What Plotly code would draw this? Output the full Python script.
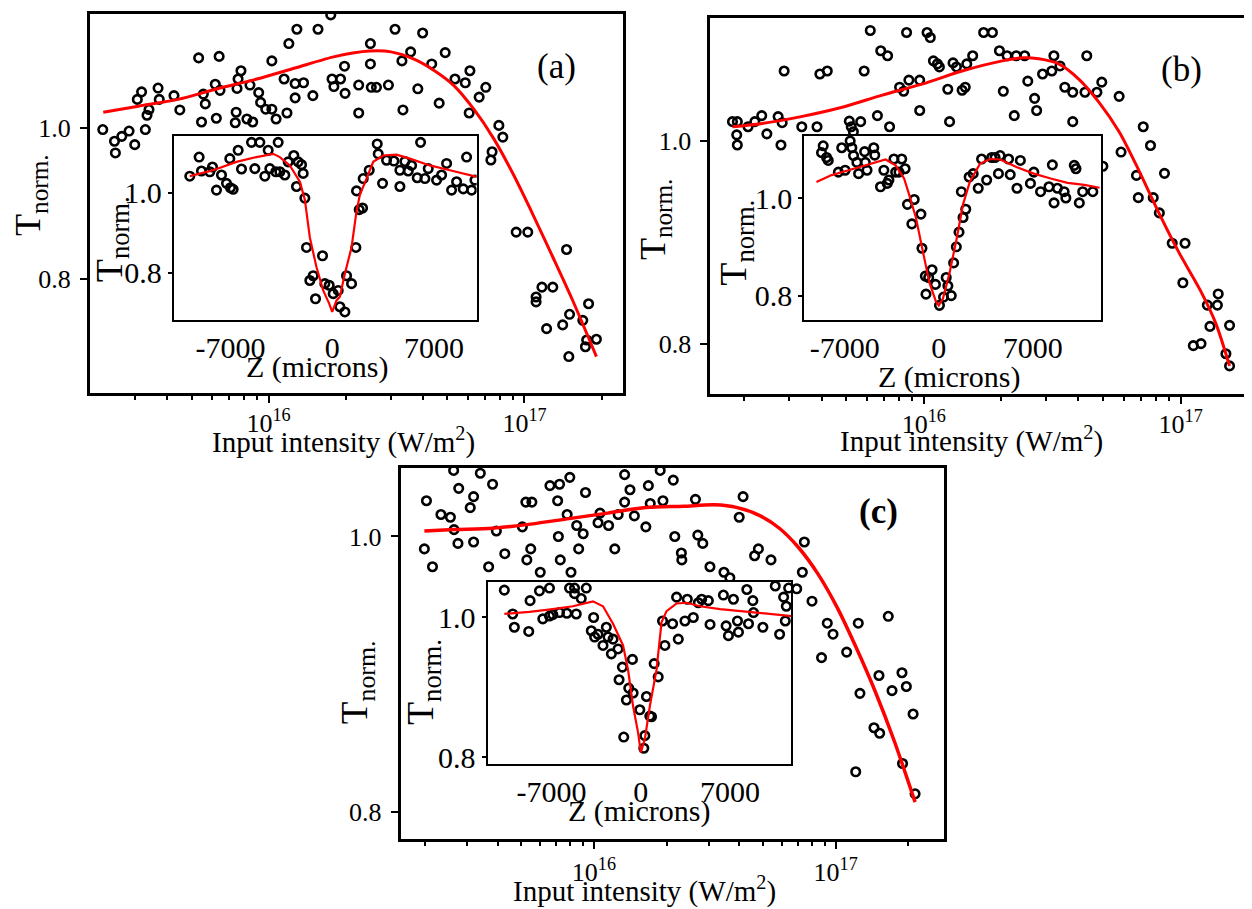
import plotly.graph_objects as go

# page is 1252x909; the html body has an 8 px margin, so the figure is drawn 8 px in
OFF = 8
WF, HF = 1252 - OFF, 909 - OFF
FONT = "Liberation Serif, Times New Roman, serif"

# ---------------- Panel (a) main: input intensity (W/m^2) vs T_norm ----------------
A_I = [2.25e15, 2.50e15, 2.52e15, 2.67e15, 2.85e15, 3.0e15, 3.07e15, 3.19e15, 3.30e15, 3.35e15,
       3.41e15, 3.70e15, 3.74e15, 4.27e15, 4.50e15, 5.33e15, 5.47e15, 5.56e15, 5.66e15, 6.25e15,
       6.19e15, 6.46e15, 6.41e15, 7.41e15, 7.47e15, 7.53e15, 7.60e15, 7.80e15, 8.23e15, 8.67e15,
       8.46e15, 9.15e15, 9.31e15, 9.75e15, 1.03e16, 1.07e16, 1.03e16, 1.15e16, 1.18e16, 1.20e16,
       1.27e16, 1.29e16, 1.27e16, 1.37e16, 1.49e16, 1.56e16, 1.75e16, 1.77e16, 1.80e16, 1.91e16,
       1.98e16, 1.99e16, 2.25e16, 2.25e16, 2.50e16, 2.50e16, 2.52e16, 2.64e16, 2.94e16, 3.12e16,
       3.32e16, 3.35e16, 3.59e16, 3.83e16, 4.0e16, 4.34e16, 4.64e16, 4.90e16, 5.35e16, 5.87e16,
       6.12e16, 6.08e16, 6.65e16, 7.06e16, 7.94e16, 8.23e16, 7.47e16, 7.39e16, 9.28e16, 1.03e17,
       1.11e17, 1.17e17, 1.29e17, 1.11e17, 1.22e17, 1.41e17, 1.50e17, 1.46e17, 1.49e17, 1.69e17,
       1.78e17, 1.75e17, 1.73e17, 1.91e17]
A_T = [0.998, 0.9825, 0.967, 0.989, 0.996, 0.978, 1.038, 1.048, 0.998, 1.017,
       1.0245, 1.053, 1.038, 1.043, 1.024, 1.093, 1.008, 1.045, 1.032, 1.013,
       1.058, 1.050, 1.095, 1.007, 1.021, 1.0525, 1.065, 1.076, 1.012, 1.008,
       1.057, 1.047, 1.034, 1.025, 1.025, 1.012, 1.089, 1.065, 1.020, 1.112,
       1.059, 1.131, 1.040, 1.060, 1.043, 1.131, 1.150, 1.065, 1.055, 1.065,
       1.082, 1.046, 1.057, 1.020, 1.112, 1.085, 1.054, 1.054, 1.057, 1.131,
       1.089, 1.024, 1.101, 1.052, 1.126, 1.085, 1.033, 1.100, 1.065, 1.060,
       1.076, 1.020, 1.041, 1.054, 1.0035, 0.988, 0.9685, 0.9576, 0.862, 0.862,
       0.7695, 0.789, 0.789, 0.776, 0.734, 0.739, 0.753, 0.839, 0.697, 0.745,
       0.767, 0.719, 0.710, 0.720]
A_FIT_I = [2.26e15, 3.10e15, 4.42e15, 6.30e15, 9.0e15, 1.28e16, 1.83e16, 2.48e16, 3.01e16, 3.72e16,
           4.45e16, 5.31e16, 6.34e16, 7.58e16, 9.06e16, 1.08e17, 1.29e17, 1.54e17, 1.91e17]
A_FIT_T = [1.021, 1.029, 1.038, 1.052, 1.065, 1.080, 1.095, 1.102, 1.101, 1.091,
           1.076, 1.056, 1.025, 0.986, 0.938, 0.885, 0.829, 0.772, 0.697]

# ---------------- Panel (a) inset: Z (microns) vs T_norm ----------------
AI_Z = [-9800, -9157, -8996, -8423, -8239, -7964, -7619, -7275, -7000, -6816,
        -7046, -6472, -6242, -5554, -5324, -4980, -4636, -4406, -4292, -3879,
        -3718, -3603, -3259, -3029, -2639, -2456, -2341, -2111, -1997, -1882,
        -1767, -1308, -1538, -1148, -666, -505, -207, 69, 413, 528,
        872, 987, 1331, 1629, 1859, 2088, 1675, 2134, 2547, 3098,
        3167, 3465, 3741, 4246, 4659, 4659, 5003, 5233, 5462, 5852,
        6082, 6380, 6610, 7183, 7528, 7872, 8216, 8560, 9019, 9249,
        9593, 9823]
AI_T = [1.042, 1.090, 1.055, 1.053, 1.065, 1.007, 1.045, 1.024, 1.013, 1.009,
        1.086, 1.107, 1.060, 1.127, 1.061, 1.127, 1.042, 1.107, 1.061, 1.053,
        1.127, 1.053, 1.045, 1.078, 1.094, 1.016, 1.078, 1.071, 1.049, 0.987,
        0.863, 0.792, 0.780, 0.734, 0.842, 0.772, 0.768, 0.747, 0.755, 0.714,
        0.701, 0.792, 0.772, 0.863, 0.958, 0.962, 1.005, 1.036, 1.057, 1.123,
        1.098, 1.024, 1.082, 1.080, 1.016, 1.057, 1.079, 1.055, 1.069, 1.038,
        1.127, 1.036, 1.061, 1.032, 1.045, 1.074, 1.007, 1.028, 1.010, 1.090,
        1.007, 1.032]
AI_FIT_Z = [-9800, -8193, -6587, -5210, -4062, -3603, -2915, -2226, -1882, -1538,
            -1079, -620, -207, 0, 298, 528, 872, 1331, 1675, 1905,
            2364, 2823, 3511, 4429, 5347, 6724, 8101, 9019, 9891]
AI_FIT_T = [1.042, 1.057, 1.078, 1.090, 1.098, 1.090, 1.069, 1.028, 0.983, 0.888,
            0.813, 0.755, 0.722, 0.701, 0.730, 0.739, 0.797, 0.863, 0.954, 0.995,
            1.036, 1.078, 1.094, 1.096, 1.086, 1.069, 1.057, 1.049, 1.041]

# ---------------- Panel (b) main ----------------
B_I = [1.80e15, 1.88e15, 1.88e15, 1.87e15, 2.07e15, 2.20e15, 2.34e15, 2.45e15, 2.71e15, 2.78e15,
       2.81e15, 2.86e15, 3.35e15, 3.84e15, 3.94e15, 4.21e15, 5.13e15, 5.22e15, 5.32e15, 5.68e15,
       5.86e15, 6.19e15, 6.60e15, 6.80e15, 7.23e15, 7.36e15, 8.05e15, 8.35e15, 8.57e15, 8.75e15,
       9.64e15, 9.64e15, 1.03e16, 1.06e16, 1.09e16, 1.13e16, 1.15e16, 1.24e16, 1.26e16, 1.30e16,
       1.34e16, 1.41e16, 1.45e16, 1.47e16, 1.55e16, 1.71e16, 1.85e16, 1.97e16, 2.04e16, 2.11e16,
       2.25e16, 2.29e16, 2.47e16, 2.54e16, 2.70e16, 2.75e16, 2.90e16, 3.15e16, 3.21e16, 3.39e16,
       3.54e16, 3.80e16, 3.80e16, 4.24e16, 4.31e16, 4.72e16, 4.93e16, 4.98e16, 5.76e16, 5.86e16,
       6.73e16, 6.84e16, 7.15e16, 7.63e16, 7.82e16, 8.26e16, 8.65e16, 9.27e16, 1.04e17, 1.02e17,
       1.12e17, 1.20e17, 1.27e17, 1.30e17, 1.39e17, 1.40e17, 1.55e17, 1.50e17, 1.55e17]
B_T = [1.019, 1.019, 0.996, 1.006, 1.014, 1.019, 1.025, 1.007, 1.024, 0.996,
       1.018, 1.069, 1.014, 1.014, 1.066, 1.069, 1.0195, 1.014, 1.009, 1.019,
       1.069, 1.109, 1.025, 1.089, 1.084, 1.014, 1.053, 1.049, 1.107, 1.060,
       1.060, 1.030, 1.107, 1.102, 1.079, 1.076, 1.073, 1.051, 1.019, 1.077,
       1.073, 1.050, 1.053, 1.076, 1.084, 1.107, 1.107, 1.089, 1.049, 1.084,
       1.025, 1.084, 1.084, 1.059, 1.042, 1.030, 1.066, 1.069, 1.084, 1.074,
       1.053, 1.048, 1.019, 1.048, 1.084, 1.048, 1.058, 0.975, 1.044, 0.989,
       0.966, 0.944, 1.014, 0.9955, 0.944, 0.929, 0.968, 0.899, 0.899, 0.860,
       0.798, 0.800, 0.838, 0.817, 0.838, 0.849, 0.818, 0.790, 0.778]
B_FIT_I = [1.80e15, 2.32e15, 3.33e15, 4.77e15, 6.85e15, 9.83e15, 1.41e16, 2.02e16, 2.42e16, 2.80e16,
           3.35e16, 4.01e16, 4.81e16, 5.76e16, 6.90e16, 8.26e16, 9.89e16, 1.19e17, 1.37e17, 1.55e17]
B_FIT_T = [1.014, 1.017, 1.024, 1.033, 1.045, 1.056, 1.069, 1.079, 1.082, 1.081,
           1.076, 1.061, 1.038, 1.009, 0.970, 0.928, 0.889, 0.853, 0.820, 0.778]

# ---------------- Panel (b) inset ----------------
BI_Z = [-8606, -8731, -8355, -8230, -7477, -7226, -6975, -6599, -6473, -6348,
        -6097, -5971, -5520, -5470, -5344, -4842, -4767, -4341, -4090, -3839,
        -3713, -3337, -3212, -2961, -2760, -2509, -2333, -1832, -2007, -1330,
        -1255, -1004, -753, -953, -502, -251, 50, 351, 552, 677,
        928, 1104, 1305, 1505, 1806, 2007, 1681, 2258, 2559, 2936,
        3186, 3563, 3939, 4190, 4441, 4566, 5319, 5194, 5821, 6072,
        6824, 7075, 7577, 8204, 8455, 8581, 8832, 9333, 9459, 10086,
        10212, 10463, 10713, 11466]
BI_T = [1.107, 1.093, 1.083, 1.077, 1.053, 1.103, 1.057, 1.117, 1.103, 1.087,
        1.073, 1.050, 1.095, 1.073, 1.057, 1.103, 1.088, 1.023, 1.057, 1.030,
        1.037, 1.080, 1.053, 1.053, 1.080, 1.060, 0.987, 0.997, 0.947, 0.967,
        0.897, 0.840, 0.837, 0.803, 0.853, 0.823, 0.780, 0.797, 0.837, 0.820,
        0.800, 0.867, 0.900, 0.930, 0.960, 0.977, 1.013, 1.043, 1.050, 1.020,
        1.080, 1.037, 1.083, 1.083, 1.050, 1.087, 1.048, 1.080, 1.020, 1.077,
        1.030, 1.053, 1.013, 1.023, 1.068, 0.990, 1.020, 1.013, 1.000, 1.067,
        1.060, 0.990, 1.013, 1.013]
BI_FIT_Z = [-9108, -7979, -6724, -5470, -4341, -3964, -3212, -2584, -2208, -1706,
            -1204, -703, -201, 0, 301, 803, 1305, 1806, 2308, 3061,
            3814, 4566, 5821, 7075, 8330, 9584, 10839, 11968]
BI_FIT_T = [1.033, 1.047, 1.057, 1.067, 1.077, 1.079, 1.067, 1.040, 1.007, 0.960,
            0.893, 0.827, 0.787, 0.780, 0.793, 0.847, 0.913, 0.987, 1.033, 1.070,
            1.080, 1.079, 1.063, 1.050, 1.040, 1.031, 1.027, 1.021]

# ---------------- Panel (c) main ----------------
C_I = [2.03e15, 1.99e15, 2.15e15, 2.33e15, 2.55e15, 2.63e15, 2.64e15, 2.74e15, 2.76e15, 3.08e15,
       3.18e15, 3.18e15, 3.39e15, 3.67e15, 3.81e15, 3.95e15, 4.28e15, 5.06e15, 5.23e15, 5.28e15,
       5.48e15, 5.54e15, 6.00e15, 6.58e15, 7.08e15, 7.21e15, 7.13e15, 7.26e15, 7.75e15, 7.95e15,
       8.04e15, 8.49e15, 8.65e15, 9.03e15, 9.23e15, 1.06e16, 1.04e16, 1.15e16, 1.22e16, 1.26e16,
       1.34e16, 1.34e16, 1.41e16, 1.47e16, 1.64e16, 1.68e16, 1.71e16, 1.93e16, 1.88e16, 2.13e16,
       2.16e16, 2.30e16, 2.31e16, 2.63e16, 2.69e16, 2.82e16, 3.02e16, 3.45e16, 3.65e16, 3.99e16,
       4.14e16, 4.62e16, 4.79e16, 5.40e16, 7.28e16, 7.42e16, 6.90e16, 7.98e16, 8.74e16, 9.23e16,
       9.75e16, 1.11e17, 1.24e17, 1.21e17, 1.26e17, 1.44e17, 1.52e17, 1.51e17, 1.65e17, 1.71e17,
       1.88e17, 1.96e17, 1.89e17, 2.09e17, 2.13e17]
C_T = [1.026, 0.991, 0.978, 1.016, 1.014, 1.048, 1.005, 0.995, 1.035, 1.021,
       1.029, 0.996, 1.046, 0.978, 1.038, 1.004, 0.9875, 1.007, 1.025, 0.983,
       0.991, 1.025, 0.974, 1.037, 1.026, 1.038, 1.000, 0.983, 1.016, 1.043,
       0.974, 1.008, 0.991, 1.002, 1.032, 1.017, 1.010, 1.008, 0.991, 1.016,
       1.025, 1.045, 1.034, 1.015, 1.007, 1.037, 1.024, 1.026, 1.048, 1.041,
       1.000, 0.988, 0.983, 1.027, 1.001, 0.995, 0.978, 0.974, 0.970, 1.014,
       1.029, 0.986, 0.991, 0.983, 0.974, 0.996, 0.962, 0.953, 0.912, 0.937,
       0.929, 0.916, 0.937, 0.829, 0.886, 0.861, 0.857, 0.899, 0.942, 0.888,
       0.901, 0.891, 0.835, 0.871, 0.813]
C_FIT_I = [1.99e15, 2.64e15, 3.81e15, 5.48e15, 7.89e15, 1.14e16, 1.64e16, 2.35e16, 3.15e16, 3.92e16,
           4.88e16, 5.85e16, 7.02e16, 8.43e16, 1.01e17, 1.21e17, 1.46e17, 1.75e17, 2.13e17]
C_FIT_T = [1.004, 1.005, 1.006, 1.009, 1.013, 1.017, 1.021, 1.022, 1.023, 1.021,
           1.015, 1.006, 0.992, 0.973, 0.949, 0.920, 0.887, 0.851, 0.807]

# ---------------- Panel (c) inset ----------------
CI_Z = [-10698, -10042, -9911, -8784, -8679, -7945, -7682, -7158, -7158, -6896,
        -6371, -5795, -5585, -5192, -5060, -5192, -4667, -4274, -3881, -3697,
        -3618, -3356, -2963, -2701, -2570, -2307, -2176, -1783, -1442, -1704,
        -1127, -944, -656, -603, -79, 446, 315, 236, 708, 839,
        1049, 1363, 1704, 1888, 2491, 2937, 2806, 3461, 3645, 4117,
        4510, 4772, 5428, 5296, 6476, 6686, 6870, 7263, 7578, 7656,
        8312, 8443, 8784, 8836, 9570, 10540, 10881, 11196, 11327, 11406,
        11589, -1337]
CI_T = [1.039, 1.005, 0.986, 0.980, 1.024, 1.038, 0.998, 1.042, 1.002, 1.004,
        1.007, 1.006, 1.042, 1.042, 1.005, 1.034, 1.027, 1.042, 0.981, 1.000,
        0.972, 0.976, 0.960, 0.986, 0.972, 0.948, 0.969, 0.955, 0.929, 0.911,
        0.882, 0.899, 0.940, 0.892, 0.868, 0.887, 0.831, 0.813, 0.859, 0.858,
        0.934, 0.915, 0.995, 0.960, 0.991, 0.969, 1.029, 0.995, 1.026, 1.000,
        1.021, 1.026, 0.990, 1.024, 1.032, 0.988, 0.974, 1.026, 0.995, 0.979,
        1.040, 0.991, 1.024, 1.007, 0.986, 1.045, 0.976, 1.029, 0.995, 1.016,
        1.042, 0.829]
CI_FIT_Z = [-10698, -8731, -6896, -5323, -3749, -2963, -2176, -1390, -996, -603,
            -210, 0, 315, 708, 1232, 1626, 2019, 2806, 3592, 4641,
            6214, 8312, 10147, 11851]
CI_FIT_T = [1.005, 1.008, 1.012, 1.016, 1.023, 1.016, 0.991, 0.960, 0.925, 0.873,
            0.835, 0.807, 0.826, 0.873, 0.925, 0.993, 1.009, 1.020, 1.021, 1.016,
            1.012, 1.008, 1.005, 1.002]

# tick labels
MAIN_X_TICKS = [1e16, 1e17]
MAIN_X_TICKTEXT = ["10<sup>16</sup>", "10<sup>17</sup>"]
MINOR_X_TICKS = [m * 10 ** e for e in (15, 16, 17) for m in range(2, 10)]
MAIN_Y_TICKS = [0.8, 1.0]
MAIN_Y_TICKTEXT = ["0.8", "1.0"]
INSET_X_TICKS = [-7000, 0, 7000]
INSET_X_TICKTEXT = ["-7000", "0", "7000"]
INSET_Y_TICKS = [0.8, 1.0]
INSET_Y_TICKTEXT = ["0.8", "1.0"]


def dom_x(a, b):
    return [(a - OFF) / WF, (b - OFF) / WF]


def dom_y(top, bottom):
    return [1 - (bottom - OFF) / HF, 1 - (top - OFF) / HF]


fig = go.Figure()

MARK = dict(symbol="circle-open", size=8.5, color="black", line=dict(width=2.6, color="black"))
RED = "#ff0000"


def add_panel(n_main, n_inset, I, T, fI, fT, Z, TZ, fZ, fTZ, main_w=3.0):
    xa, ya = ("x" if n_main == 1 else f"x{n_main}"), ("y" if n_main == 1 else f"y{n_main}")
    fig.add_trace(go.Scatter(x=I, y=T, mode="markers", marker=MARK, xaxis=xa, yaxis=ya,
                             showlegend=False, hoverinfo="skip"))
    fig.add_trace(go.Scatter(x=fI, y=fT, mode="lines", line=dict(color=RED, width=main_w, shape="spline", smoothing=0.8),
                             xaxis=xa, yaxis=ya, showlegend=False, hoverinfo="skip"))
    xi, yi = f"x{n_inset}", f"y{n_inset}"
    fig.add_trace(go.Scatter(x=Z, y=TZ, mode="markers", marker=MARK, xaxis=xi, yaxis=yi,
                             showlegend=False, hoverinfo="skip"))
    fig.add_trace(go.Scatter(x=fZ, y=fTZ, mode="lines", line=dict(color=RED, width=2.2),
                             xaxis=xi, yaxis=yi, showlegend=False, hoverinfo="skip"))


add_panel(1, 4, A_I, A_T, A_FIT_I, A_FIT_T, AI_Z, AI_T, AI_FIT_Z, AI_FIT_T)
add_panel(2, 5, B_I, B_T, B_FIT_I, B_FIT_T, BI_Z, BI_T, BI_FIT_Z, BI_FIT_T)
add_panel(3, 6, C_I, C_T, C_FIT_I, C_FIT_T, CI_Z, CI_T, CI_FIT_Z, CI_FIT_T, main_w=3.5)

tickfont_main = dict(family=FONT, size=26, color="black")
tickfont_inset = dict(family=FONT, size=30, color="black")


def main_x(dom, rng, anchor, standoff=-2):
    return dict(type="log", domain=dom, range=rng, anchor=anchor, showgrid=False, zeroline=False,
                showline=True, linewidth=3, linecolor="black", mirror=True,
                tickmode="array", tickvals=MAIN_X_TICKS, ticktext=MAIN_X_TICKTEXT,
                ticks="outside", ticklen=7, tickwidth=2, tickcolor="black", tickfont=tickfont_main,
                ticklabelstandoff=standoff,
                minor=dict(tickmode="array", tickvals=MINOR_X_TICKS, ticks="outside", ticklen=4,
                           tickwidth=2, tickcolor="black", showgrid=False),
                fixedrange=True)


def main_y(dom, rng, anchor):
    return dict(domain=dom, range=rng, anchor=anchor, showgrid=False, zeroline=False,
                showline=True, linewidth=3, linecolor="black", mirror=True,
                tickmode="array", tickvals=MAIN_Y_TICKS, ticktext=MAIN_Y_TICKTEXT,
                ticks="outside", ticklen=7, tickwidth=2, tickcolor="black", tickfont=tickfont_main,
                ticklabelstandoff=4, fixedrange=True)


def inset_x(dom, rng, anchor):
    return dict(domain=dom, range=rng, anchor=anchor, showgrid=False, zeroline=False,
                showline=True, linewidth=2, linecolor="black", mirror=True,
                tickmode="array", tickvals=INSET_X_TICKS, ticktext=INSET_X_TICKTEXT,
                ticks="", tickfont=tickfont_inset, fixedrange=True)


def inset_y(dom, rng, anchor):
    return dict(domain=dom, range=rng, anchor=anchor, showgrid=False, zeroline=False,
                showline=True, linewidth=2, linecolor="black", mirror=True,
                tickmode="array", tickvals=INSET_Y_TICKS, ticktext=INSET_Y_TICKTEXT,
                ticks="outside", ticklen=4, tickwidth=1.5, tickcolor="black", tickfont=tickfont_inset,
                ticklabelstandoff=0, fixedrange=True)


# panel geometry (page pixels) and axis ranges
A_RANGE_X, A_RANGE_Y = [15.302, 17.383], [0.6491, 1.1513]
B_RANGE_X, B_RANGE_Y = [15.1695, 17.266], [0.7506, 1.1214]
C_RANGE_X, C_RANGE_Y = [15.2009, 17.449], [0.7804, 1.0499]
AI_RANGE_X, AI_RANGE_Y = [-10896, 9939], [0.682, 1.144]
BI_RANGE_X, BI_RANGE_Y = [-10009, 12086], [0.751, 1.128]
CI_RANGE_X, CI_RANGE_Y = [-12007, 11803], [0.7912, 1.0513]

fig.update_layout(
    xaxis=main_x(dom_x(90, 623), A_RANGE_X, "y"),
    yaxis=main_y(dom_y(14, 397), A_RANGE_Y, "x"),
    xaxis2=main_x(dom_x(711, 1250), B_RANGE_X, "y2"),
    yaxis2=main_y(dom_y(18, 398), B_RANGE_Y, "x2"),
    xaxis3=main_x(dom_x(401, 945), C_RANGE_X, "y3", standoff=1),
    yaxis3=main_y(dom_y(473, 848), C_RANGE_Y, "x3"),
    xaxis4=inset_x(dom_x(174, 477), AI_RANGE_X, "y4"),
    yaxis4=inset_y(dom_y(137, 323), AI_RANGE_Y, "x4"),
    xaxis5=inset_x(dom_x(805, 1102), BI_RANGE_X, "y5"),
    yaxis5=inset_y(dom_y(137, 323), BI_RANGE_Y, "x5"),
    xaxis6=inset_x(dom_x(488, 792), CI_RANGE_X, "y6"),
    yaxis6=inset_y(dom_y(588, 772), CI_RANGE_Y, "x6"),
)

# white backgrounds for the insets (hide the main data beneath them)
for n, rx, ry in ((4, AI_RANGE_X, AI_RANGE_Y), (5, BI_RANGE_X, BI_RANGE_Y), (6, CI_RANGE_X, CI_RANGE_Y)):
    fig.add_shape(type="rect", xref=f"x{n}", yref=f"y{n}", x0=rx[0], x1=rx[1], y0=ry[0], y1=ry[1],
                  fillcolor="white", line=dict(width=0), layer="below")


def ann(text, px, py, size, angle=0, bold=False):
    fig.add_annotation(text=f"<b>{text}</b>" if bold else text,
                       x=(px - OFF) / WF, y=1 - (py - OFF) / HF, xref="paper", yref="paper",
                       showarrow=False, xanchor="center", yanchor="middle", textangle=angle,
                       font=dict(family=FONT, size=size, color="black"))


XT = "Input intensity (W/m<sup>2</sup>)"
YT = "T<sub>norm.</sub>"
ZT = "Z (microns)"
ann(XT, 344, 445, 29)
ann(XT, 972, 444, 29)
ann(XT, 645, 899, 29)
ann(YT, 31, 197, 36, -90)
ann(YT, 656, 222, 36, -90)
ann(YT, 358, 690, 37, -90)
ann(ZT, 317, 371, 30)
ann(ZT, 950, 381, 30)
ann(ZT, 640, 820, 30)
ann(YT, 112, 242, 38, -90)
ann(YT, 737, 245, 38, -90)
ann(YT, 424, 690, 38, -90)
ann("(a)", 557, 67, 35)
ann("(b)", 1182, 70, 35)
ann("(c)", 879, 517, 35, bold=True)

fig.update_layout(width=WF, height=HF, autosize=False, margin=dict(l=0, r=0, t=0, b=0),
                  paper_bgcolor="white", plot_bgcolor="white", showlegend=False,
                  font=dict(family=FONT, color="black"))

fig.write_html("out.html")
